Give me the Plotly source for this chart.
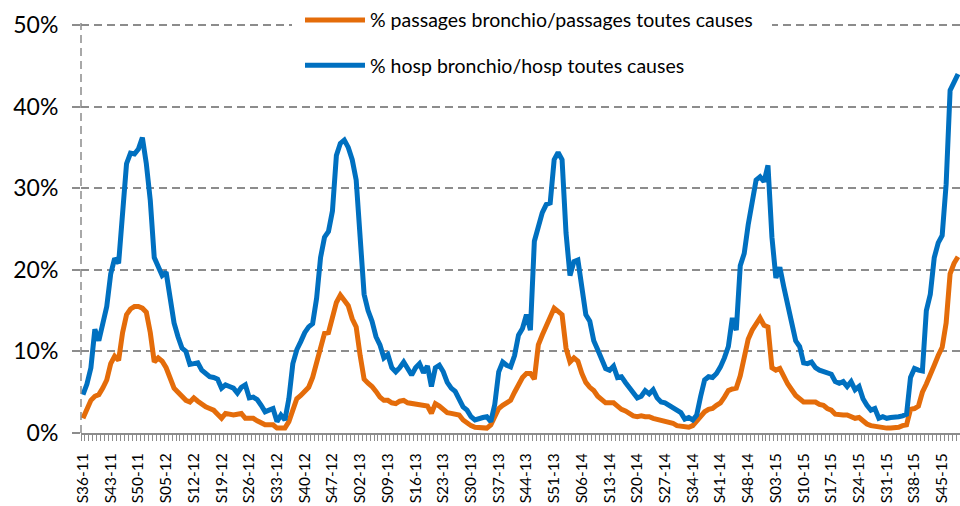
import plotly.graph_objects as go

# ISO week segments: (year suffix, first week, last week)
week_segments = [("11", 36, 52), ("12", 1, 52), ("13", 1, 52), ("14", 1, 52), ("15", 1, 49)]
weeks = [f"S{w:02d}-{y}" for y, a, b in week_segments for w in range(a, b + 1)]

tick_labels = ["S36-11", "S43-11", "S50-11", "S05-12", "S12-12", "S19-12", "S26-12", "S33-12",
               "S40-12", "S47-12", "S02-13", "S09-13", "S16-13", "S23-13", "S30-13", "S37-13",
               "S44-13", "S51-13", "S06-14", "S13-14", "S20-14", "S27-14", "S34-14", "S41-14",
               "S48-14", "S03-15", "S10-15", "S17-15", "S24-15", "S31-15", "S38-15", "S45-15"]

# % passages bronchio / passages toutes causes
passages = [
    1.8, 3.0, 4.0, 4.5, 4.7, 5.5, 6.5, 8.5, 9.4, 8.9,
    12.3, 14.5, 15.2, 15.5, 15.5, 15.3, 14.8, 12.3, 8.7, 9.2,
    8.8, 8.0, 6.9, 5.5, 5.0, 4.6, 4.0, 3.8, 4.3, 3.9,
    3.5, 3.2, 3.0, 2.8, 2.3, 1.8, 2.4, 2.3, 2.2, 2.3,
    2.4, 1.8, 1.8, 1.8, 1.5, 1.3, 1.0, 1.0, 1.0, 0.6,
    0.6, 0.6, 1.4, 3.0, 4.2, 4.6, 5.0, 5.6, 6.8, 8.7,
    10.8, 12.2, 12.3, 14.0, 16.0, 16.9, 16.3, 15.6, 14.0, 13.0,
    9.5, 6.6, 6.1, 5.7, 5.1, 4.4, 4.0, 4.0, 3.7, 3.6,
    3.9, 4.0, 3.7, 3.6, 3.6, 3.5, 3.4, 3.3, 2.4, 3.6,
    3.3, 2.8, 2.5, 2.4, 2.3, 2.2, 1.6, 1.2, 0.9, 0.7,
    0.65, 0.6, 0.6, 1.0, 2.0, 3.0, 3.4, 3.7, 4.0, 5.0,
    6.0, 6.8, 7.3, 7.3, 6.6, 10.8, 12.0, 13.1, 14.3, 15.3,
    14.9, 14.5, 10.4, 8.7, 9.2, 8.8, 7.3, 6.2, 5.6, 5.2,
    4.5, 4.0, 3.7, 3.7, 3.7, 3.3, 2.9, 2.7, 2.3, 2.1,
    2.0, 2.1, 2.0, 2.0, 1.8, 1.7, 1.6, 1.5, 1.4, 1.2,
    0.9, 0.8, 0.65, 0.7, 0.9, 1.5, 2.2, 2.6, 2.9, 3.0,
    3.4, 3.7, 4.4, 5.2, 5.4, 5.5, 7.0, 9.3, 11.5, 12.6,
    13.4, 14.1, 13.2, 13.0, 8.0, 7.7, 7.9, 6.8, 6.0, 5.3,
    4.6, 4.2, 3.8, 3.8, 3.8, 3.8, 3.5, 3.4, 3.0, 2.8,
    2.3, 2.2, 2.2, 2.2, 2.0, 1.8, 1.9, 1.4, 1.1, 0.9,
    0.8, 0.7, 0.6, 0.6, 0.6, 0.6, 0.7, 0.9, 1.0, 2.9,
    3.0, 3.3, 5.0, 6.0, 7.0, 8.3, 9.5, 10.5, 13.5, 19.5,
    20.8, 21.6,
]

# % hosp bronchio / hosp toutes causes
hosp = [
    4.7, 6.0, 8.0, 12.7, 11.3, 13.2, 15.5, 19.5, 21.4, 20.8,
    28.0, 33.0, 34.3, 34.2, 34.8, 36.2, 33.0, 28.5, 21.5, 20.5,
    19.3, 19.7, 17.0, 13.5, 11.8, 10.4, 10.0, 8.4, 8.5, 8.6,
    7.7, 7.3, 6.9, 6.8, 6.6, 5.5, 5.9, 5.7, 5.5, 4.9,
    5.6, 5.9, 4.3, 4.4, 4.1, 3.4, 2.6, 2.8, 3.0, 1.4,
    2.2, 1.6, 4.2, 8.5, 10.2, 11.2, 12.3, 13.0, 13.4, 16.5,
    21.5, 24.0, 24.7, 27.2, 34.0, 35.5, 35.9, 35.0, 33.5, 31.0,
    24.5, 17.0, 15.0, 13.7, 11.8, 10.8, 9.2, 9.6, 8.0, 7.5,
    8.0, 8.7, 7.9, 7.1, 8.0, 8.5, 7.4, 8.2, 5.7, 8.0,
    8.3, 7.5, 6.2, 5.5, 5.1, 4.0, 3.2, 2.8, 2.0, 1.6,
    1.8, 1.9, 2.0, 1.4, 3.5, 7.5, 8.7, 8.3, 8.1, 9.5,
    12.0, 12.8, 14.5, 12.6, 23.5, 25.2, 27.0, 28.0, 28.2, 33.5,
    34.4, 33.5, 24.5, 19.3, 21.0, 21.2, 18.3, 14.5, 13.7, 11.3,
    10.2, 9.2, 7.9, 7.7, 8.2, 6.8, 6.9, 6.2, 5.6, 4.8,
    4.3, 4.5, 5.2, 4.8, 5.3, 4.3, 3.8, 3.7, 3.4, 3.2,
    2.9, 2.5, 1.7, 1.9, 1.6, 2.2, 4.5, 6.5, 6.9, 6.8,
    7.3, 8.1, 9.2, 10.6, 14.1, 12.6, 20.5, 22.0, 25.5, 28.5,
    31.0, 31.4, 30.8, 32.8, 24.0, 19.0, 20.3, 17.9, 16.0, 13.5,
    11.3, 10.6, 8.6, 8.5, 8.7, 8.0, 7.7, 7.5, 7.4, 7.2,
    6.3, 6.1, 6.3, 5.7, 6.3, 5.3, 5.7, 4.2, 3.4, 2.8,
    3.0, 1.8, 2.0, 1.8, 1.9, 1.9, 2.0, 2.1, 2.3, 6.8,
    7.9, 7.7, 7.6, 15.0, 17.0, 21.5, 23.3, 24.2, 30.5, 42.0,
    43.0, 44.0,
]

x_idx = list(range(len(weeks)))
tick_pos = [weeks.index(t) for t in tick_labels]

ORANGE = "#E46C0A"
BLUE = "#0070C0"
GRID = "#8c8c8c"
FONT = "Lato, Carlito, 'Liberation Sans', sans-serif"
DASH = "8px,5px"
Y_TOP = 50.25  # small headroom so the 50% gridline is not clipped at the edge
PLOT_H = 410

fig = go.Figure()
fig.add_trace(go.Scatter(
    x=x_idx, y=passages, mode="lines", name="% passages bronchio/passages toutes causes",
    line=dict(color=ORANGE, width=5), legendgroup="a", text=weeks,
    hovertemplate="%{text}: %{y:.1f}%<extra></extra>"))
fig.add_trace(go.Scatter(
    x=x_idx, y=hosp, mode="lines", name="% hosp bronchio/hosp toutes causes",
    line=dict(color=BLUE, width=5), legendgroup="b", text=weeks,
    hovertemplate="%{text}: %{y:.1f}%<extra></extra>"))

fig.update_layout(
    width=960, height=506,
    margin=dict(l=81, r=0, t=23, b=73),
    plot_bgcolor="white", paper_bgcolor="white",
    font=dict(family=FONT, color="#000000"),
    showlegend=True,
    legend=dict(
        x=(300 - 81) / 879, y=(433 - 0.7) / PLOT_H, xanchor="left", yanchor="top",
        bgcolor="rgba(255,255,255,0)", borderwidth=0,
        font=dict(size=19.5, family=FONT, color="#000000"),
        itemwidth=60, tracegroupgap=17, traceorder="grouped",
    ),
    xaxis=dict(
        range=[-0.5, len(weeks) - 0.5],
        tickmode="array", tickvals=tick_pos, ticktext=tick_labels,
        tickangle=-90, tickfont=dict(size=15.5, family=FONT, color="#000000"),
        ticks="outside", ticklen=6, tickcolor="rgba(0,0,0,0)", ticklabelstandoff=6,
        showline=True, linecolor=GRID, linewidth=2,
        showgrid=False, zeroline=False, automargin=False,
        minor=dict(tickmode="linear", tick0=-0.5, dtick=1, ticks="outside",
                   ticklen=6, tickwidth=1, tickcolor=GRID, showgrid=False),
    ),
    yaxis=dict(
        range=[0, Y_TOP], dtick=10, tick0=0, ticksuffix="%",
        tickfont=dict(size=23, family=FONT, color="#000000"),
        ticks="outside", ticklen=8, tickcolor=GRID, tickwidth=1.5, ticklabelstandoff=9,
        showgrid=True, gridcolor=GRID, gridwidth=1.5, griddash=DASH,
        zeroline=False, showline=False, automargin=False,
    ),
    yaxis2=dict(
        overlaying="y", side="left", range=[0, Y_TOP], dtick=10, tick0=0,
        ticks="inside", ticklen=7, tickcolor=GRID, tickwidth=1.5,
        showticklabels=False, showgrid=False, zeroline=False, showline=False,
    ),
    shapes=[
        dict(type="line", xref="paper", yref="paper", x0=0, x1=0, y0=0, y1=1,
             line=dict(color=GRID, width=1.5, dash=DASH), layer="above"),
        # white panel behind the legend, hiding the grid there
        dict(type="rect", xref="paper", yref="paper",
             x0=(292 - 81) / 879, x1=(772 - 81) / 879,
             y0=(433 - 86) / PLOT_H, y1=(433 - 0) / PLOT_H,
             fillcolor="white", line=dict(width=0), layer="above"),
    ],
)

fig.write_html(
    "out.html",
    config={"displayModeBar": False},
    post_script="document.body.style.margin='0';document.body.style.overflow='hidden';",
)
